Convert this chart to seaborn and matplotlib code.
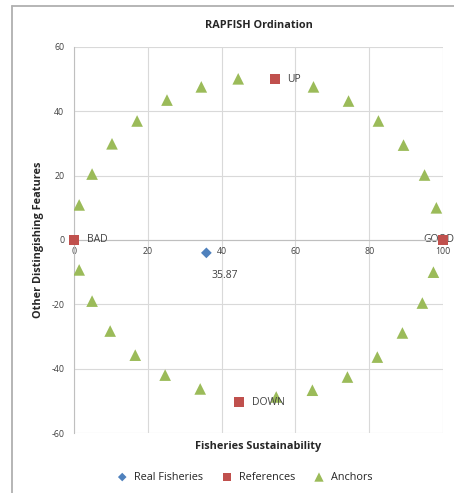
import numpy as np
import pandas as pd
import matplotlib
matplotlib.use("Agg")
import matplotlib.pyplot as plt
import seaborn as sns
from matplotlib.lines import Line2D

# Data
real_x = [35.87]
real_y = [-4.0]

ref_names = ["BAD", "GOOD", "UP", "DOWN"]
ref_x = [0.0, 100.0, 54.5, 44.8]
ref_y = [0.0, 0.0, 50.0, -50.4]

anchor_x = [1.4, 4.9, 10.3, 17.1, 25.2, 34.5, 44.5, 64.9, 74.4, 82.5, 89.3, 95.0, 98.2,
            97.4, 94.4, 89.0, 82.2, 74.1, 64.6, 54.8, 34.2, 24.7, 16.6, 9.8, 4.9, 1.4]
anchor_y = [10.9, 20.5, 29.9, 37.0, 43.5, 47.6, 50.1, 47.6, 43.2, 37.0, 29.5, 20.2, 10.0,
            -10.0, -19.6, -28.9, -36.4, -42.6, -46.7, -48.8, -46.3, -42.0, -35.8, -28.3, -19.0, -9.3]

real = pd.DataFrame({"x": real_x, "y": real_y})
refs = pd.DataFrame({"x": ref_x, "y": ref_y, "name": ref_names})
anchors = pd.DataFrame({"x": anchor_x, "y": anchor_y})

sns.set_style("white")
plt.rcParams['font.family'] = ['Open Sans', 'DejaVu Sans']
plt.rcParams['axes.unicode_minus'] = False

fig = plt.figure(figsize=(4.54, 4.93), dpi=100)
ax = fig.add_axes([0.163, 0.1217, 0.8128, 0.783])

# outer chart border (only top and left edges are visible in the reference)
fig.add_artist(Line2D([11.5 / 454, 1], [1 - 6 / 493, 1 - 6 / 493], transform=fig.transFigure,
                      color="#b0b0b0", linewidth=1.3))
fig.add_artist(Line2D([11.5 / 454, 11.5 / 454], [0, 1 - 6 / 493], transform=fig.transFigure,
                      color="#b0b0b0", linewidth=1.3))

sns.scatterplot(data=anchors, x="x", y="y", marker="^", s=70, color="#9BBB59",
                edgecolor="none", ax=ax, label="Anchors", zorder=3)
sns.scatterplot(data=real, x="x", y="y", marker="D", s=30, color="#4F81BD",
                edgecolor="none", ax=ax, label="Real Fisheries", zorder=4)

# labels for reference points (drawn before squares so GOOD sits under its square)
for _, r in refs.iterrows():
    if r["name"] == "GOOD":
        ax.text(r["x"] - 1, r["y"], r["name"], ha="center", va="center", fontsize=7.5,
                color="#404040", clip_on=False, zorder=2)
    else:
        ax.annotate(r["name"], (r["x"], r["y"]), xytext=(9, 0), textcoords="offset points",
                    ha="left", va="center", fontsize=7.5, color="#404040")

sns.scatterplot(data=refs, x="x", y="y", marker="s", s=55, color="#C0504D",
                edgecolor="none", ax=ax, label="References", zorder=5, clip_on=False)

ax.annotate(f"{real_x[0]:.2f}", (real_x[0], real_y[0]), xytext=(13, -16),
            textcoords="offset points", ha="center", va="center", fontsize=7.5, color="#404040")

ax.set_xlim(0, 100)
ax.set_ylim(-60, 60)
ax.set_xticks(np.arange(0, 101, 20))
ax.set_yticks(np.arange(-60, 61, 20))
ax.grid(True, color="#d9d9d9", linewidth=0.8)
ax.set_axisbelow(True)

for side in ["top", "right"]:
    ax.spines[side].set_visible(False)
ax.spines["left"].set_color("#bfbfbf")
ax.spines["bottom"].set_position(("data", 0))
ax.spines["bottom"].set_color("#bfbfbf")

ax.tick_params(axis="both", labelsize=6.3, colors="#404040", length=3, width=0.8)
ax.tick_params(axis="x", direction="out", pad=2, color="#bfbfbf")
ax.tick_params(axis="y", direction="out", pad=4, color="#bfbfbf")

ax.set_title("RAPFISH Ordination", fontsize=7.8, fontweight="bold", pad=14)
ax.set_xlabel("Fisheries Sustainability", fontsize=7.8, fontweight="bold")
ax.xaxis.set_label_coords(0.5, -0.022)
ax.set_ylabel("Other Distingishing Features", fontsize=7.8, fontweight="bold")
ax.yaxis.set_label_coords(-0.082, 0.5)

handles, labels = ax.get_legend_handles_labels()
order = [labels.index(n) for n in ["Real Fisheries", "References", "Anchors"]]
ax.legend([handles[i] for i in order], [labels[i] for i in order], loc="center",
          bbox_to_anchor=(0.455, -0.115), ncol=3, frameon=False, fontsize=7.8,
          handletextpad=0.1, columnspacing=1.2, markerscale=0.8)

fig.savefig("out.png", dpi=100)
